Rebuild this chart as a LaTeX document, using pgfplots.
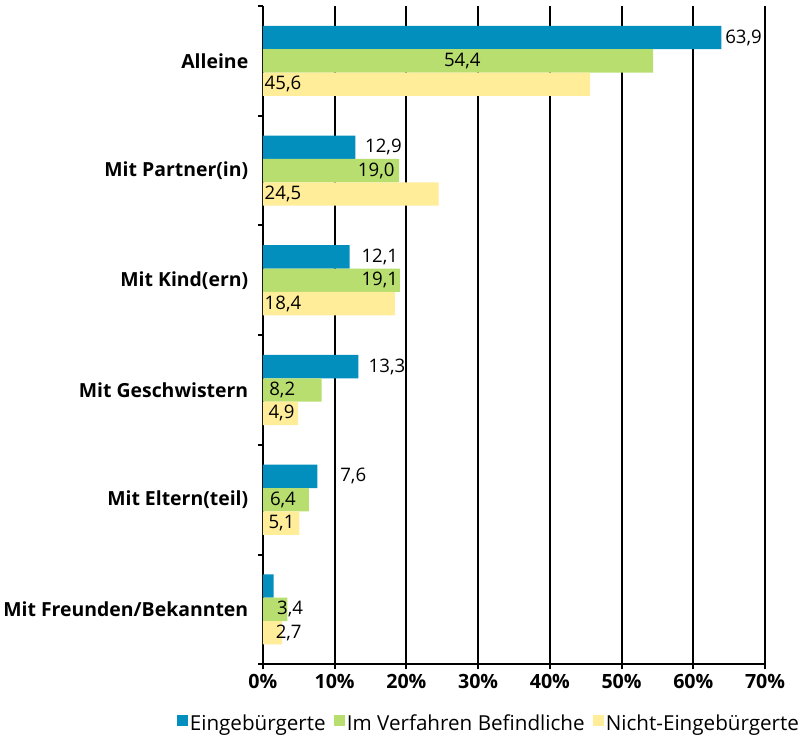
\documentclass[border=0pt]{standalone}
\usepackage{pgfplots}
\pgfplotsset{compat=1.18}
\usepackage{pgfplotstable}
\usepackage{fontspec}
\setmainfont{Open Sans}
\definecolor{eing}{RGB}{3,143,190}
\definecolor{verf}{RGB}{183,222,110}
\definecolor{nicht}{RGB}{255,237,153}

% y: 0 = Alleine ... 5 = Mit Freunden/Bekannten; lx = centre of the value label
\pgfplotstableread{
y x lx lbl
0 63.9 67.0 63,9
1 12.9 16.8 12,9
2 12.1 16.3 12,1
3 13.3 17.3 13,3
4 7.6 12.6 7,6
5 1.5 1.5 {}
}\eingtab
\pgfplotstableread{
y x lx lbl
0 54.4 27.8 54,4
1 19.0 15.8 19,0
2 19.1 16.3 19,1
3 8.2 2.7 8,2
4 6.4 2.8 6,4
5 3.4 3.8 3,4
}\verftab
\pgfplotstableread{
y x lx lbl
0 45.6 2.8 45,6
1 24.5 2.8 24,5
2 18.4 2.8 18,4
3 4.9 2.6 4,9
4 5.1 2.6 5,1
5 2.7 3.6 2,7
}\nichttab

\begin{document}
\begin{tikzpicture}
\begin{axis}[
    xbar,
    scale only axis,
    width=499pt, height=654pt,
    xmin=0, xmax=70, ymin=-0.5, ymax=5.5,
    y dir=reverse,
    bar width=0.213,
    axis x line*=bottom, axis y line*=left,
    axis line style={black, line width=2.2pt},
    xtick={0,10,...,70},
    xticklabel={\pgfmathprintnumber{\tick}\%},
    /pgf/number format/assume math mode=true,
    xticklabel style={font=\fontsize{19.5}{19.5}\selectfont\bfseries, yshift=-1pt},
    xmajorgrids,
    grid style={black, line width=2pt},
    ytick={0,...,5},
    yticklabels={Alleine, Mit Partner(in), Mit Kind(ern), Mit Geschwistern, Mit Eltern(teil), Mit Freunden/Bekannten},
    yticklabel style={font=\fontsize{19.3}{19.3}\selectfont\bfseries, xshift=-6pt},
    minor ytick={-0.5,0.5,...,5.5},
    tick align=outside,
    major tick length=5pt, minor tick length=5pt,
    tick style={black, line width=2pt},
    major y tick style={draw=none},
    nodes near coords,
    point meta=explicit symbolic,
    visualization depends on={\thisrow{lx}-\thisrow{x} \as \dx},
    nodes near coords style={font=\fontsize{18.5}{18.5}\selectfont, anchor=center, shift={(axis direction cs:\dx,0)}},
    legend columns=3,
    legend image code/.code={\fill[#1] (0pt,-2pt) rectangle (11pt,8pt);},
    legend style={at={(0.45,-0.09)}, anchor=center, draw=none,
        font=\fontsize{20.5}{20.5}\selectfont,
        nodes={inner sep=2pt},
        /tikz/every even column/.append style={column sep=6pt}},
]
\addplot[fill=eing, draw=none, bar shift=-0.213] table[x=x, y=y, meta=lbl] {\eingtab};
\addplot[fill=verf, draw=none, bar shift=0] table[x=x, y=y, meta=lbl] {\verftab};
\addplot[fill=nicht, draw=none, bar shift=0.213] table[x=x, y=y, meta=lbl] {\nichttab};
\legend{Eingebürgerte, Im Verfahren Befindliche, Nicht-Eingebürgerte}
\end{axis}
% a little white space above the axis, as in the reference
\path (current axis.north) ++(0,6pt);
\end{tikzpicture}
\end{document}
